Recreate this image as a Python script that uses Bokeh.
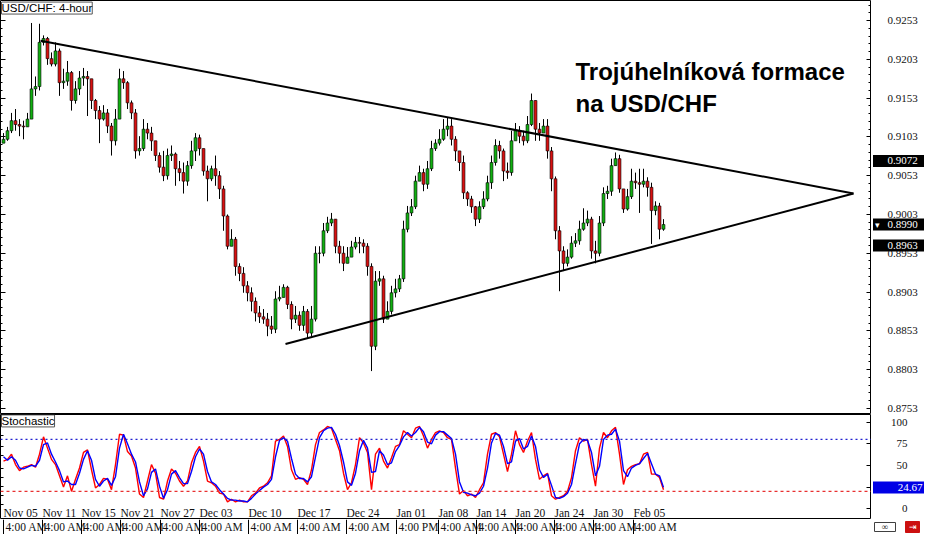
from bokeh.plotting import figure
from bokeh.models import (ColumnDataSource, LinearAxis, FixedTicker, Span, Label, Range1d)
from bokeh.layouts import column, row
from bokeh.embed import file_html
from bokeh.resources import INLINE

# ---------------- data (USD/CHF, 4-hour candles) ----------------
first_open = 0.9095
closes = [
    0.9100, 0.9111, 0.9124, 0.9119, 0.9117, 0.9116, 0.9126, 0.9165, 0.9168, 0.9225,
    0.9230, 0.9204, 0.9197, 0.9214, 0.9173, 0.9175, 0.9186, 0.9150, 0.9165, 0.9179,
    0.9181, 0.9178, 0.9150, 0.9137, 0.9126, 0.9134, 0.9117, 0.9098, 0.9126, 0.9178,
    0.9173, 0.9147, 0.9134, 0.9085, 0.9088, 0.9113, 0.9108, 0.9098, 0.9079, 0.9064,
    0.9053, 0.9079, 0.9081, 0.9062, 0.9057, 0.9046, 0.9066, 0.9085, 0.9102, 0.9088,
    0.9059, 0.9049, 0.9062, 0.9053, 0.9036, 0.9001, 0.8962, 0.8971, 0.8936, 0.8927,
    0.8911, 0.8902, 0.8891, 0.8876, 0.8871, 0.8868, 0.8859, 0.8855, 0.8894, 0.8896,
    0.8909, 0.8887, 0.8868, 0.8873, 0.8860, 0.8878, 0.8850, 0.8868, 0.8953, 0.8953,
    0.8982, 0.8992, 0.8997, 0.8962, 0.8953, 0.8940, 0.8948, 0.8961, 0.8967, 0.8966,
    0.8962, 0.8936, 0.8833, 0.8917, 0.8920, 0.8868, 0.8878, 0.8902, 0.8907, 0.8920,
    0.8984, 0.9005, 0.9013, 0.9046, 0.9057, 0.9042, 0.9062, 0.9088, 0.9095, 0.9100,
    0.9113, 0.9117, 0.9100, 0.9085, 0.9070, 0.9031, 0.9023, 0.9013, 0.8997, 0.9013,
    0.9023, 0.9044, 0.9070, 0.9092, 0.9085, 0.9059, 0.9057, 0.9098, 0.9111, 0.9104,
    0.9098, 0.9119, 0.9150, 0.9113, 0.9108, 0.9117, 0.9085, 0.9049, 0.8982, 0.8956,
    0.8940, 0.8948, 0.8966, 0.8969, 0.8984, 0.8992, 0.8997, 0.8956, 0.8953, 0.8992,
    0.9030, 0.9033, 0.9066, 0.9075, 0.9036, 0.9010, 0.9026, 0.9046, 0.9044, 0.9042,
    0.9046, 0.9038, 0.9008, 0.9014, 0.8984, 0.8990,
]
highs = [
    0.9108, 0.9116, 0.9134, 0.9139, 0.9126, 0.9124, 0.9134, 0.9250, 0.9181, 0.9249,
    0.9234, 0.9232, 0.9212, 0.9225, 0.9217, 0.9191, 0.9201, 0.9188, 0.9175, 0.9188,
    0.9192, 0.9188, 0.9178, 0.9152, 0.9143, 0.9144, 0.9139, 0.9121, 0.9139, 0.9191,
    0.9188, 0.9175, 0.9150, 0.9139, 0.9104, 0.9126, 0.9121, 0.9116, 0.9098, 0.9083,
    0.9085, 0.9088, 0.9092, 0.9083, 0.9072, 0.9070, 0.9072, 0.9098, 0.9108, 0.9106,
    0.9088, 0.9066, 0.9066, 0.9079, 0.9059, 0.9040, 0.9003, 0.8984, 0.8974, 0.8940,
    0.8935, 0.8917, 0.8909, 0.8896, 0.8885, 0.8881, 0.8876, 0.8872, 0.8904, 0.8911,
    0.8913, 0.8911, 0.8891, 0.8885, 0.8878, 0.8885, 0.8881, 0.8885, 0.8962, 0.8962,
    0.8992, 0.9000, 0.9005, 0.8997, 0.8969, 0.8962, 0.8961, 0.8969, 0.8974, 0.8974,
    0.8971, 0.8966, 0.8940, 0.8930, 0.8930, 0.8924, 0.8891, 0.8911, 0.8920, 0.8925,
    0.8995, 0.9014, 0.9023, 0.9053, 0.9066, 0.9062, 0.9072, 0.9098, 0.9100, 0.9113,
    0.9126, 0.9128, 0.9126, 0.9104, 0.9085, 0.9079, 0.9033, 0.9027, 0.9014, 0.9020,
    0.9033, 0.9053, 0.9079, 0.9100, 0.9098, 0.9088, 0.9070, 0.9111, 0.9121, 0.9117,
    0.9111, 0.9130, 0.9159, 0.9150, 0.9121, 0.9126, 0.9126, 0.9090, 0.9052, 0.8988,
    0.8962, 0.8958, 0.8975, 0.8979, 0.8995, 0.9011, 0.9008, 0.9000, 0.8969, 0.9001,
    0.9038, 0.9040, 0.9075, 0.9083, 0.9080, 0.9036, 0.9036, 0.9062, 0.9057, 0.9062,
    0.9062, 0.9051, 0.9044, 0.9020, 0.9018, 0.8997,
]
lows = [
    0.9095, 0.9098, 0.9108, 0.9111, 0.9104, 0.9100, 0.9116, 0.9126, 0.9156, 0.9163,
    0.9221, 0.9196, 0.9194, 0.9194, 0.9156, 0.9165, 0.9169, 0.9137, 0.9146, 0.9157,
    0.9169, 0.9130, 0.9139, 0.9126, 0.9095, 0.9124, 0.9108, 0.9079, 0.9092, 0.9126,
    0.9165, 0.9139, 0.9126, 0.9075, 0.9079, 0.9085, 0.9100, 0.9085, 0.9072, 0.9057,
    0.9046, 0.9048, 0.9072, 0.9040, 0.9046, 0.9030, 0.9040, 0.9062, 0.9072, 0.9079,
    0.9053, 0.9020, 0.9046, 0.9040, 0.9023, 0.8982, 0.8958, 0.8962, 0.8924, 0.8917,
    0.8902, 0.8891, 0.8878, 0.8865, 0.8863, 0.8862, 0.8846, 0.8849, 0.8850, 0.8891,
    0.8896, 0.8881, 0.8855, 0.8863, 0.8853, 0.8853, 0.8843, 0.8846, 0.8865, 0.8940,
    0.8949, 0.8979, 0.8988, 0.8953, 0.8940, 0.8930, 0.8940, 0.8948, 0.8958, 0.8953,
    0.8953, 0.8924, 0.8801, 0.8828, 0.8911, 0.8863, 0.8868, 0.8874, 0.8896, 0.8903,
    0.8916, 0.8980, 0.9001, 0.9010, 0.9046, 0.9033, 0.9036, 0.9059, 0.9085, 0.9092,
    0.9098, 0.9104, 0.9092, 0.9072, 0.9059, 0.9023, 0.9014, 0.9005, 0.8988, 0.8992,
    0.9010, 0.9020, 0.9036, 0.9066, 0.9075, 0.9046, 0.9049, 0.9053, 0.9098, 0.9095,
    0.9092, 0.9095, 0.9117, 0.9098, 0.9098, 0.9108, 0.9075, 0.9033, 0.8971, 0.8904,
    0.8930, 0.8936, 0.8946, 0.8961, 0.8964, 0.8982, 0.8988, 0.8946, 0.8940, 0.8949,
    0.8988, 0.9023, 0.9027, 0.9066, 0.9031, 0.9005, 0.9008, 0.9023, 0.9036, 0.9005,
    0.9038, 0.9026, 0.8965, 0.9002, 0.8971, 0.8982,
]
opens = [first_open] + closes[:-1]

# stochastic oscillator lines (red leads, blue lags)
stoch_red = [
    55, 57, 63, 51, 44, 48, 49, 51, 48, 63, 83, 70, 57, 51, 38, 25, 38, 20, 34, 47,
    65, 68, 45, 24, 28, 35, 34, 22, 51, 86, 85, 66, 61, 47, 17, 13, 32, 51, 41, 13,
    11, 32, 46, 41, 32, 26, 32, 53, 65, 72, 55, 32, 30, 26, 18, 17, 8, 11, 8, 10,
    8, 8, 15, 18, 24, 26, 30, 38, 78, 80, 84, 72, 45, 34, 36, 34, 28, 45, 74, 88,
    91, 95, 93, 80, 67, 41, 22, 30, 51, 82, 76, 65, 22, 63, 70, 55, 47, 59, 72, 74,
    90, 86, 82, 93, 95, 84, 70, 80, 88, 90, 88, 82, 80, 47, 17, 21, 15, 17, 13, 22,
    30, 63, 86, 88, 83, 63, 43, 63, 90, 74, 65, 78, 88, 57, 34, 38, 41, 15, 11, 13,
    15, 20, 36, 67, 82, 78, 80, 51, 26, 70, 88, 82, 90, 94, 63, 28, 45, 49, 51, 52,
    63, 65, 40, 40, 36, 22,
]
stoch_blue = [
    60, 56, 60, 56, 47, 46, 48, 50, 49, 56, 74, 76, 63, 54, 44, 31, 32, 28, 28, 41,
    57, 67, 56, 34, 26, 32, 35, 27, 37, 70, 86, 75, 63, 54, 31, 15, 23, 42, 46, 26,
    12, 22, 40, 44, 36, 29, 29, 43, 60, 69, 63, 43, 31, 28, 22, 17, 12, 10, 10, 9,
    9, 8, 12, 17, 21, 25, 28, 34, 60, 79, 82, 78, 58, 40, 35, 35, 31, 37, 60, 82,
    90, 93, 94, 86, 73, 54, 31, 27, 41, 67, 79, 70, 42, 43, 67, 62, 51, 53, 66, 73,
    83, 88, 84, 88, 94, 89, 77, 75, 85, 89, 89, 85, 81, 63, 31, 19, 18, 16, 15, 18,
    26, 47, 76, 87, 85, 72, 52, 54, 78, 81, 69, 72, 84, 72, 45, 36, 40, 27, 13, 12,
    14, 18, 28, 52, 75, 80, 79, 65, 38, 49, 80, 85, 86, 92, 78, 44, 37, 47, 50, 52,
    58, 64, 52, 40, 38, 24.67,
]
stoch_levels = [80, 20]

# time axis (candle index where each label starts)
date_idx = [0, 9.75, 19.5, 29.25, 39.25, 49, 61.25, 73.5, 85.75, 98.25,
            108.75, 118.25, 128, 137.75, 147.5, 157.5]
date_labels = ["Nov 05", "Nov 11", "Nov 15", "Nov 21", "Nov 27", "Dec 03", "Dec 10",
               "Dec 17", "Dec 24", "Jan 01", "Jan 08", "Jan 14", "Jan 20", "Jan 24",
               "Jan 30", "Feb 05"]
time_labels = ["4:00 AM", "4:00 AM", "4:00 AM", "4:00 AM", "4:00 AM", "4:00 AM",
               "4:00 AM", "4:00 AM", "4:00 AM", "4:00 PM", "4:00 AM", "4:00 AM",
               "4:00 AM", "4:00 AM", "4:00 AM", "4:00 AM"]

# triangle trend lines (candle index, price)
upper_x = [9.25, 212.5]
upper_y = [0.9227, 0.9030]
lower_x = [70.5, 212.5]
lower_y = [0.8836, 0.9030]

price_ticks = [0.8753, 0.8803, 0.8853, 0.8903, 0.8953, 0.9003, 0.9053, 0.9103,
               0.9153, 0.9203, 0.9253]
price_tick_labels = ["0.8753", "0.8803", "0.8853", "0.8903", "0.8953", "0.9003",
                     "0.9053", "0.9103", "0.9153", "0.9203", "0.9253"]
price_markers = [0.9072, 0.8990, 0.8963]
price_marker_labels = ["0.9072", "0.8990", "0.8963"]
current_price = 0.8990
stoch_ticks = [0, 25, 50, 75, 100]
stoch_tick_shown = [0, 50, 75, 100]
stoch_tick_labels = ["0", "50", "75", "100"]
stoch_marker = 24.67

# ---------------- layout ----------------
FONT = "Liberation Sans"
FW = 871          # frame width of the chart panels
RB = 53           # width of the price-scale strip on the right
H1, H2, H3 = 414, 105, 15
XR = Range1d(-0.75, 217)
YR1 = Range1d(0.8745, 0.9279)
YR2 = Range1d(-12.4, 108.8)


def base_fig(w, h, xr, yr):
    f = figure(width=w, height=h, x_range=xr, y_range=yr, output_backend="svg",
               toolbar_location=None, x_axis_type=None, y_axis_type=None,
               min_border_left=0, min_border_right=0, min_border_top=0,
               min_border_bottom=0)
    f.background_fill_color = "white"
    f.border_fill_color = "white"
    f.outline_line_color = "black"
    f.outline_line_width = 1
    return f


def tick_axis(ticks, minor, tin, min_in):
    return LinearAxis(ticker=FixedTicker(ticks=ticks, minor_ticks=minor),
                      major_tick_in=tin, major_tick_out=0,
                      minor_tick_in=min_in, minor_tick_out=0,
                      major_label_text_color=None, major_label_text_font_size="0px",
                      major_label_standoff=0, axis_line_color=None,
                      major_tick_line_color="black", minor_tick_line_color="black")


# ---------------- main price panel ----------------
p = base_fig(FW, H1, XR, YR1)

idx = list(range(len(closes)))
src = ColumnDataSource(dict(
    x=idx, o=opens, c=closes, h=highs, l=lows,
    top=[max(a, b) for a, b in zip(opens, closes)],
    bot=[min(a, b) for a, b in zip(opens, closes)],
    col=["#10b010" if c >= o else "#d81010" for o, c in zip(opens, closes)],
))
p.segment(x0="x", y0="l", x1="x", y1="h", source=src, line_color="black", line_width=1)
p.vbar(x="x", width=0.72, top="top", bottom="bot", source=src, fill_color="col",
       line_color="black", line_width=0.6)

p.line(upper_x, upper_y, line_color="black", line_width=2)
p.line(lower_x, lower_y, line_color="black", line_width=2)

minor_price = [round(0.8743 + 0.001 * k, 4) for k in range(55)]
p.add_layout(tick_axis(price_ticks, minor_price, 5, 3), "right")
p.add_layout(tick_axis(price_ticks, minor_price, 5, 2), "left")

p.add_layout(Label(x=-0.5, y=0.9277, text="USD/CHF: 4-hour", text_align="left",
                   text_baseline="top", text_font=FONT, text_font_size="11.5px",
                   text_color="black", background_fill_color="white",
                   border_line_color="#555555", border_line_width=1))

p.add_layout(Label(x=143, y=0.9205, text="Trojúhelníková formace\nna USD/CHF",
                   text_align="left", text_baseline="top", text_font=FONT,
                   text_font_size="24px", text_font_style="bold",
                   text_color="black", text_line_height=1.2))

# price scale strip
pa = base_fig(RB, H1, Range1d(0, RB), YR1)
pa.outline_line_color = None
pa.text(x=16, y=price_ticks, text=price_tick_labels, text_align="left",
        text_baseline="middle", text_font=FONT, text_font_size="11px",
        text_color="#111111")
pa.rect(x=RB / 2 + 1, y=price_markers, width=RB - 1, height=12, height_units="screen",
        fill_color="black", line_color=None)
pa.text(x=16, y=price_markers, text=price_marker_labels, text_align="left",
        text_baseline="middle", text_font=FONT, text_font_size="11px",
        text_color="white")
pa.text(x=3, y=[current_price], text=["\u25be"], text_align="left",
        text_baseline="middle", text_font="DejaVu Sans", text_font_size="9px",
        text_color="white")

# ---------------- stochastic panel ----------------
s = base_fig(FW, H2, XR, YR2)
s.add_layout(Span(location=stoch_levels[0], dimension="width", line_color="#2020d0",
                  line_dash="2 3", line_width=1.2))
s.add_layout(Span(location=stoch_levels[1], dimension="width", line_color="#e83030",
                  line_dash="3 3", line_width=1.2))
s.line(idx, stoch_red, line_color="#ff0000", line_width=1.4)
s.line(idx, stoch_blue, line_color="#0000ff", line_width=1.4)
s.add_layout(tick_axis(stoch_ticks, [], 5, 0), "right")
s.add_layout(tick_axis([5, 15, 26, 36, 47, 61, 72, 85], [], 3, 0), "left")

s.add_layout(Label(x=-0.5, y=108.3, text="Stochastic", text_align="left",
                   text_baseline="top", text_font=FONT, text_font_size="11.5px",
                   text_color="black", background_fill_color="white",
                   border_line_color="#555555", border_line_width=1))

s.text(x=date_idx, y=-4.8, text=date_labels, text_align="left", text_baseline="middle",
       text_font=FONT, text_font_size="11.5px", text_color="#111111")

sa = base_fig(RB, H2, Range1d(0, RB), YR2)
sa.outline_line_color = None
sa.text(x=36, y=stoch_tick_shown, text=stoch_tick_labels, text_align="right",
        text_baseline="middle", text_font=FONT, text_font_size="11px",
        text_color="#111111")
sa.rect(x=RB / 2 + 1, y=[stoch_marker], width=RB - 1, height=12,
        height_units="screen", fill_color="#0000e6", line_color=None)
sa.text(x=51, y=[stoch_marker], text=[f"{stoch_marker:.2f}"], text_align="right",
        text_baseline="middle", text_font=FONT, text_font_size="11px",
        text_color="white")

# ---------------- time row ----------------
t = base_fig(FW, H3, XR, Range1d(0, 1))
t.outline_line_color = None
t.segment(x0=date_idx, y0=0, x1=date_idx, y1=1, line_color="black", line_width=1)
t.text(x=date_idx, y=0.5, text=time_labels, x_offset=2, text_align="left",
       text_baseline="middle", text_font=FONT, text_font_size="11.5px",
       text_color="#111111")

ta = base_fig(RB, H3, Range1d(0, RB), Range1d(0, 1))
ta.outline_line_color = None
ta.rect(x=[13.5], y=[0.5], width=[21], height=[9], height_units="screen",
        fill_color="white", line_color="#404040", line_width=1)
ta.text(x=[13.5], y=[0.5], text=["\u221e"], text_align="center", text_baseline="middle",
        text_font="DejaVu Sans", text_font_size="9px", text_color="#202020")
ta.rect(x=[41], y=[0.5], width=[14], height=[11], height_units="screen",
        fill_color="#cc1010", line_color="#cc1010")
ta.text(x=[41], y=[0.5], text=["\u21e5"], text_align="center", text_baseline="middle",
        text_font="DejaVu Sans", text_font_size="9px", text_color="white")

layout = column(row(p, pa, spacing=0), row(s, sa, spacing=0), row(t, ta, spacing=0),
                spacing=0)
open("out.html", "w").write(file_html(layout, INLINE))
